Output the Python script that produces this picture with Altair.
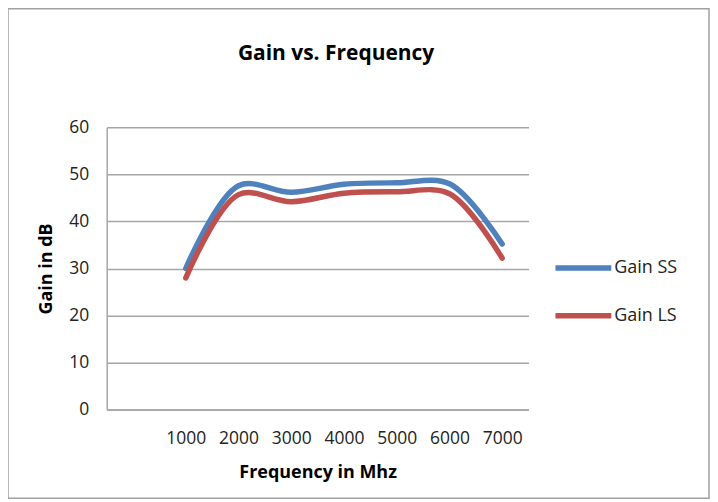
import altair as alt
import pandas as pd

freqs = [1000, 2000, 3000, 4000, 5000, 6000, 7000]
gain_ss = [30, 47.6, 46.2, 47.9, 48.2, 48.0, 35.2]
gain_ls = [28, 45.7, 44.2, 46.0, 46.3, 45.9, 32.2]
series = ["Gain SS", "Gain LS"]
colors = ["#4F81BD", "#C0504D"]
title_text = "Gain vs. Frequency"

rows = []
for f, a, b in zip(freqs, gain_ss, gain_ls):
    rows.append({"freq": f, "gain": a, "series": series[0]})
    rows.append({"freq": f, "gain": b, "series": series[1]})
df = pd.DataFrame(rows)

FONT = "Open Sans"
GRID = "#a6a6a6"

lines = alt.Chart(df).mark_line(
    interpolate="catmull-rom", strokeWidth=5.5, strokeCap="round"
).encode(
    x=alt.X("freq:Q",
            scale=alt.Scale(domain=[-500, 7500], nice=False, zero=False),
            axis=alt.Axis(values=freqs, format="d", grid=False, ticks=False, labelPadding=20,
                          title="Frequency in Mhz", titlePadding=17,
                          domainColor=GRID, domainWidth=1.5)),
    y=alt.Y("gain:Q",
            scale=alt.Scale(domain=[0, 60], nice=False),
            axis=alt.Axis(values=[0, 10, 20, 30, 40, 50, 60], ticks=False,
                          labelPadding=18, title="Gain in dB", titlePadding=13,
                          gridColor=GRID, gridWidth=1.5,
                          domainColor=GRID, domainWidth=1.5)),
    color=alt.Color("series:N",
                    scale=alt.Scale(domain=series, range=colors),
                    sort=series,
                    legend=alt.Legend(title=None, orient="none", legendX=447,
                                      legendY=110, symbolType="stroke",
                                      symbolStrokeWidth=5.5, symbolSize=3136,
                                      rowPadding=6, labelOffset=0)),
)

border = alt.Chart(pd.DataFrame({"a": [0]})).mark_rect(
    fill=None, stroke="#a0a0a0", strokeWidth=1.5, clip=False
).encode(
    x=alt.value(-99), x2=alt.value(604), y=alt.value(-119), y2=alt.value(372)
)

title = alt.Chart(pd.DataFrame({"t": [title_text]})).mark_text(
    font=FONT, fontSize=21, fontWeight="bold", color="#000000",
    align="center", baseline="middle", clip=False
).encode(text="t:N", x=alt.value(230), y=alt.value(-74))

chart = alt.layer(border, title, lines).properties(
    width=423, height=283,
    padding={"left": 99, "top": 119, "right": 182, "bottom": 90},
    autosize=alt.AutoSizeParams(type="none"),
).configure_view(stroke=None).configure_axis(
    labelFont=FONT, labelFontSize=17.5, labelColor="#222222",
    titleFont=FONT, titleFontSize=18, titleFontWeight="bold", titleColor="#000000",
).configure_legend(labelFont=FONT, labelFontSize=18, labelColor="#222222")

chart.save("out.html", embed_options={"renderer": "svg", "actions": False})
